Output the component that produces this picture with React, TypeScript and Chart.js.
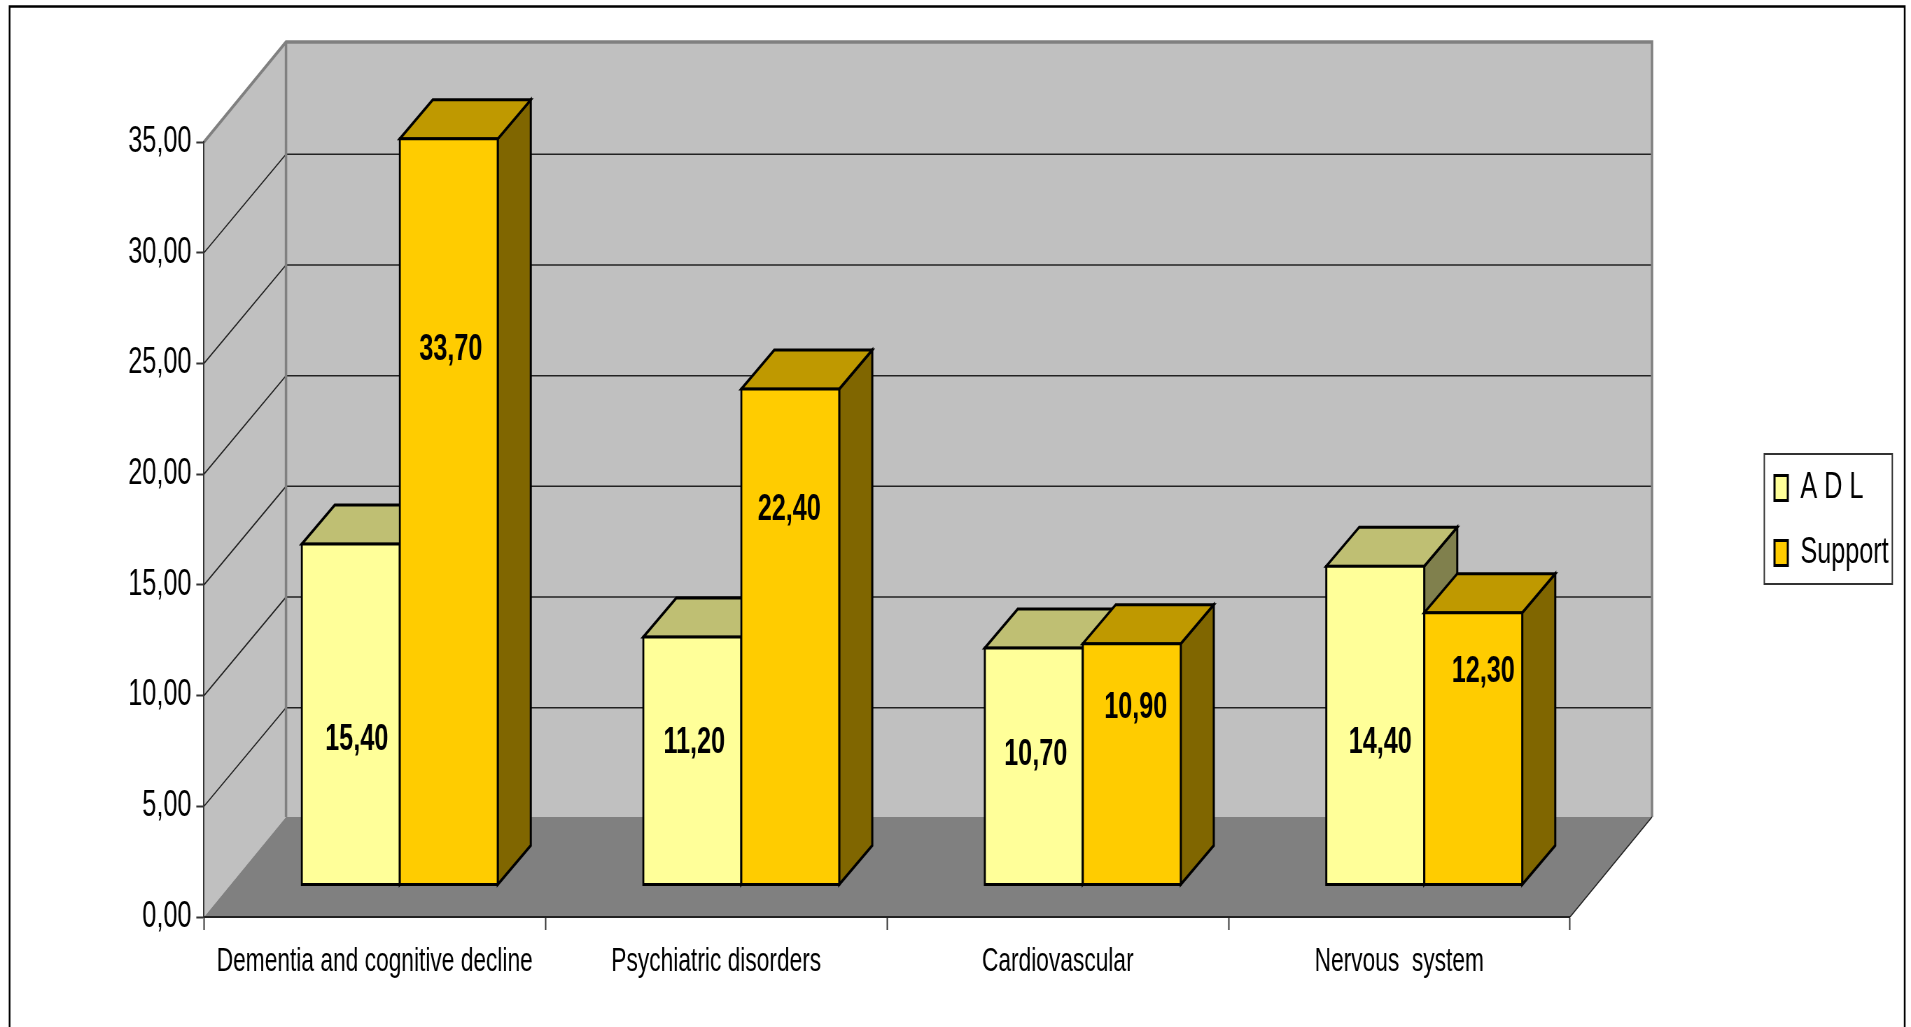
import React, { useEffect, useRef } from "react";
import { Chart, registerables } from "chart.js";

Chart.register(...registerables);

const categories = ["Dementia and cognitive decline", "Psychiatric disorders", "Cardiovascular", "Nervous  system"];
const adlValues = [15.4, 11.2, 10.7, 14.4];
const supportValues = [33.7, 22.4, 10.9, 12.3];
const seriesNames = ["A D L", "Support"];
const yTicks = ["0,00", "5,00", "10,00", "15,00", "20,00", "25,00", "30,00", "35,00"];
const adlLabelHeight = [0.43, 0.58, 0.557, 0.45];
const supportLabelHeight = [0.72, 0.76, 0.74, 0.787];
const adlLabelShift = [6, 2, 2, 5];
const supportLabelShift = [2, -1, 4, 10];

const SX = 0.7;
const W = Math.round(1911 / SX);
const H = 1027;
const px = (v: number) => v / SX;
const FONT = "'Liberation Sans', Arial, sans-serif";
const FONT_SIZE = 36;
const CAT_FONT_SIZE = 32.5;
const WALL_DX = px(82);
const WALL_DY = -100;
const GRID_DY = -98.5;
const BAR_OFF_X = px(25);
const BAR_OFF_Y = -32;
const BAR_DX = px(33);
const BAR_DY = -39;

const faceColors = [
  { top: "#BFBF73", side: "#80804D" },
  { top: "#BF9900", side: "#806600" },
];

const poly = (ctx: CanvasRenderingContext2D, pts: number[][]) => {
  ctx.beginPath();
  pts.forEach((p, i) => (i ? ctx.lineTo(p[0], p[1]) : ctx.moveTo(p[0], p[1])));
  ctx.closePath();
};

const scenePlugin = {
  id: "scene",
  beforeDraw(chart: any) {
    const { ctx, scales } = chart;
    const x0 = scales.x.left;
    const x1 = scales.x.right;
    const yS = scales.y;
    const y0 = yS.getPixelForValue(0);
    const yT = yS.getPixelForValue(35);
    ctx.save();
    ctx.fillStyle = "#fff";
    ctx.fillRect(0, 0, W, H);
    ctx.strokeStyle = "#000";
    ctx.lineWidth = 2.5;
    ctx.strokeRect(px(9.6), 6.5, px(1904.7 - 9.6), 1200);

    ctx.fillStyle = "#C0C0C0";
    poly(ctx, [[x0, yT], [x0 + WALL_DX, yT + WALL_DY], [x0 + WALL_DX, y0 + WALL_DY], [x0, y0]]);
    ctx.fill();
    ctx.fillRect(x0 + WALL_DX, yT + WALL_DY, x1 - x0, y0 - yT);

    ctx.fillStyle = "#808080";
    poly(ctx, [[x0, y0], [x1, y0], [x1 + WALL_DX, y0 + WALL_DY], [x0 + WALL_DX, y0 + WALL_DY]]);
    ctx.fill();

    yS.ticks.forEach((t: any) => {
      if (t.value === 0 || t.value === 35) return;
      const y = yS.getPixelForValue(t.value);
      ctx.strokeStyle = "#222";
      ctx.lineWidth = 1.5;
      ctx.beginPath();
      ctx.moveTo(x0, y);
      ctx.lineTo(x0 + WALL_DX, y + GRID_DY);
      ctx.lineTo(x1 + WALL_DX, y + GRID_DY);
      ctx.stroke();
    });

    ctx.strokeStyle = "#808080";
    ctx.lineWidth = 3.5;
    ctx.beginPath();
    ctx.moveTo(x0, yT);
    ctx.lineTo(x0 + WALL_DX, yT + WALL_DY);
    ctx.lineTo(x1 + WALL_DX, yT + WALL_DY);
    ctx.lineTo(x1 + WALL_DX, y0 + WALL_DY);
    ctx.moveTo(x0 + WALL_DX, yT + WALL_DY);
    ctx.lineTo(x0 + WALL_DX, y0 + WALL_DY);
    ctx.stroke();

    ctx.strokeStyle = "#222";
    ctx.lineWidth = 1.5;
    ctx.beginPath();
    ctx.moveTo(x1, y0);
    ctx.lineTo(x1 + WALL_DX, y0 + WALL_DY);
    ctx.stroke();
    ctx.restore();
  },
  afterLayout(chart: any) {
    const lg = chart.legend;
    if (!lg) return;
    lg.left = px(1774.5) - 29;
    lg.right = lg.left + px(160);
    lg.top = 441;
    lg.bottom = lg.top + 160;
  },
  beforeDatasetsDraw(chart: any) {
    const { ctx } = chart;
    ctx.save();
    ctx.translate(BAR_OFF_X, BAR_OFF_Y);
    // Left series first, so that the right one overlaps its depth faces.
    chart.data.datasets.forEach((_: any, di: number) => {
      const meta = chart.getDatasetMeta(di);
      const colors = faceColors[di];
      ctx.lineWidth = 3;
      ctx.strokeStyle = "#000";
      ctx.lineJoin = "miter";
      meta.data.forEach((bar: any) => {
        const l = bar.x - bar.width / 2;
        const r = bar.x + bar.width / 2;
        const t = bar.y;
        const b = bar.base;
        ctx.fillStyle = colors.side;
        poly(ctx, [[r, t], [r + BAR_DX, t + BAR_DY], [r + BAR_DX, b + BAR_DY], [r, b]]);
        ctx.fill();
        ctx.stroke();
        ctx.fillStyle = colors.top;
        poly(ctx, [[l, t], [r, t], [r + BAR_DX, t + BAR_DY], [l + BAR_DX, t + BAR_DY]]);
        ctx.fill();
        ctx.stroke();
      });
      meta.controller.draw();
    });

    const heights = [adlLabelHeight, supportLabelHeight];
    const shifts = [adlLabelShift, supportLabelShift];
    ctx.font = `bold ${FONT_SIZE}px ${FONT}`;
    ctx.fillStyle = "#000";
    ctx.textAlign = "center";
    ctx.textBaseline = "middle";
    chart.data.datasets.forEach((ds: any, di: number) => {
      chart.getDatasetMeta(di).data.forEach((bar: any, i: number) => {
        const y = bar.base + (bar.y - bar.base) * heights[di][i] + 2;
        ctx.fillText(ds.data[i].toFixed(2).replace(".", ","), bar.x + px(shifts[di][i]), y);
      });
    });
    ctx.restore();
    return false;
  },
  afterDraw(chart: any) {
    const { ctx } = chart;
    ctx.save();
    ctx.strokeStyle = "#333";
    ctx.lineWidth = 2;
    ctx.strokeRect(px(1764.3), 454, px(1892.3 - 1764.3), 130);
    ctx.restore();
  },
};

export default function App() {
  const ref = useRef<HTMLCanvasElement>(null);
  useEffect(() => {
    const base = { backgroundColor: "", borderColor: "#000", borderWidth: 3, borderSkipped: false, inflateAmount: 1.5 };
    const chart = new Chart(ref.current as HTMLCanvasElement, {
      type: "bar",
      data: {
        labels: categories,
        datasets: [
          { ...base, label: seriesNames[0], data: adlValues, backgroundColor: "#FFFF99" },
          { ...base, label: seriesNames[1], data: supportValues, backgroundColor: "#FFCC00" },
        ] as any,
      },
      options: {
        animation: false,
        responsive: false,
        devicePixelRatio: 1,
        layout: { padding: { left: 0, top: 142, bottom: 0, right: W - px(1570) } },
        datasets: { bar: { barPercentage: 1, categoryPercentage: 0.574 } },
        plugins: {
          tooltip: { enabled: false },
          legend: {
            position: "chartArea" as any,
            align: "start",
            labels: {
              boxWidth: 19,
              boxHeight: 25,
              padding: 29,
              color: "#000",
              font: { family: FONT, size: FONT_SIZE },
            },
          },
        },
        scales: {
          x: {
            type: "category",
            afterFit: (s: any) => { s.height = H - 917; },
            grid: { offset: true, drawOnChartArea: false, tickLength: 13, tickColor: "#333", tickWidth: 2 },
            border: { color: "#222", width: 2 },
            ticks: { maxRotation: 0, minRotation: 0, autoSkip: false, padding: 13, color: "#000", font: { family: FONT, size: CAT_FONT_SIZE } },
          },
          y: {
            type: "linear",
            min: 0,
            max: 35,
            afterFit: (s: any) => { s.width = px(204); },
            grid: { drawOnChartArea: false, tickLength: 11, tickColor: "#333", tickWidth: 2 },
            border: { color: "#333", width: 2 },
            ticks: {
              stepSize: 5,
              padding: 7,
              color: "#000",
              font: { family: FONT, size: FONT_SIZE },
              callback: (v: any) => yTicks[Math.round(Number(v) / 5)],
            },
          },
        },
      },
      plugins: [scenePlugin as any],
    });
    return () => chart.destroy();
  }, []);
  return (
    <div style={{ position: "absolute", left: 0, top: 0, width: 1911, height: H, overflow: "hidden" }}>
      <div style={{ width: W, height: H, transform: `scaleX(${1911 / W})`, transformOrigin: "0 0" }}>
        <canvas ref={ref} width={W} height={H} />
      </div>
    </div>
  );
}
